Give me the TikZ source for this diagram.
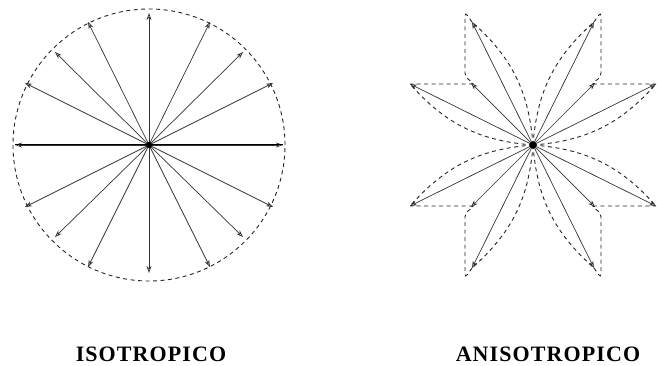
\documentclass[tikz,border=0pt]{standalone}
\usepackage{fontspec}
\setmainfont{Liberation Serif}
\usetikzlibrary{arrows.meta}
\begin{document}
\begin{tikzpicture}[x=1pt,y=-1pt,
  arr/.style={draw=black!80,line width=0.7pt,-{Stealth[length=7pt,width=5pt,open]}},
  dsh/.style={draw=black!85,line width=0.9pt,dash pattern=on 4pt off 3.5pt},
  lbl/.style={font=\fontsize{22}{24}\selectfont\bfseries\addfontfeatures{LetterSpace=5}}]
\useasboundingbox (0,0) rectangle (657,366);
% ---------- isotropic ----------
\begin{scope}[shift={(149,145)},yscale=-1]
  \coordinate (L0) at (0,0);
  \draw[dsh] (L0) circle[radius=136];
  \foreach \x/\y [count=\i] in {134/0,124/62,94/93,61/123,0/132,-61/123,-94/93,-124/62,-134/0,-124/-62,-94/-92,-61/-122,0/-128,61/-122,94/-92,124/-62}{
    \coordinate (Lt\i) at (\x,\y);
    \draw[arr] (L0) -- (Lt\i);
  }
  \draw[line width=1pt] (Lt9) -- (Lt1);
  \fill (L0) circle[radius=3];
\end{scope}
% ---------- anisotropic ----------
\begin{scope}[shift={(533,145)},yscale=-1]
  \coordinate (R0) at (0,0);
  \foreach \sx/\sy [count=\q] in {1/1,-1/1,-1/-1,1/-1}{
    \coordinate (RA\q) at ({61*\sx},{123*\sy});
    \coordinate (RB\q) at ({123*\sx},{61*\sy});
    \coordinate (RS\q) at ({62*\sx},{62*\sy});
    \coordinate (RC\q) at ({68*\sx},{68*\sy});
    \draw[arr] (R0) -- (RA\q);
    \draw[arr] (R0) -- (RB\q);
    \draw[arr] (R0) -- (RS\q);
    \draw[dsh,rounded corners=4pt] (RA\q) -- ([yshift={-10*\sy}]RA\q -| RC\q) -- (RC\q) -- ([xshift={-10*\sx}]RC\q |- RB\q) -- (RB\q);
  }
  \draw[dsh] (R0) to[bend right=22] (RA1);
  \draw[dsh] (R0) to[bend left=22] (RB1);
  \draw[dsh] (R0) to[bend left=22] (RA2);
  \draw[dsh] (R0) to[bend right=22] (RB2);
  \draw[dsh] (R0) to[bend right=22] (RA3);
  \draw[dsh] (R0) to[bend left=22] (RB3);
  \draw[dsh] (R0) to[bend left=22] (RA4);
  \draw[dsh] (R0) to[bend right=22] (RB4);
  \fill (R0) circle[radius=3.5];
\end{scope}
\node[lbl] (iso) at (151,354) {ISOTROPICO};
\node[lbl] (aniso) at (548,354) {ANISOTROPICO};
\end{tikzpicture}
\end{document}
